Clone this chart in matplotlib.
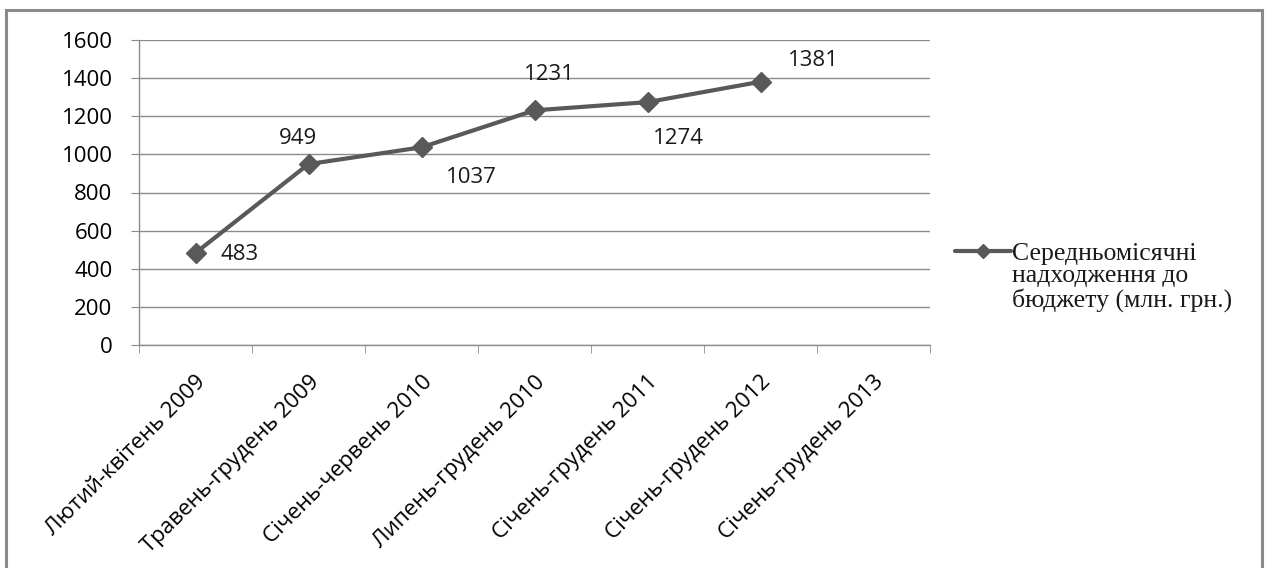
import matplotlib
matplotlib.use('Agg')
import matplotlib.pyplot as plt
from matplotlib.patches import Rectangle
from matplotlib.lines import Line2D
import numpy as np

# дані графіка
periods = ['Лютий-квітень 2009', 'Травень-грудень 2009', 'Січень-червень 2010',
           'Липень-грудень 2010', 'Січень-грудень 2011', 'Січень-грудень 2012',
           'Січень-грудень 2013']
revenue = [483, 949, 1037, 1231, 1274, 1381]
series_name = 'Середньомісячні\nнадходження до\nбюджету (млн. грн.)'
y_ticks = [0, 200, 400, 600, 800, 1000, 1200, 1400, 1600]

# зсуви підписів значень (в пікселях)
label_offsets = [(44, -2), (-11, 26), (50, -30), (15, 36), (31, -36), (53, 21)]

line_color = '#595959'
grid_color = '#8c8c8c'
sans = ['Open Sans', 'DejaVu Sans']
W, H = 1267, 568

fig = plt.figure(figsize=(W / 100, H / 100), dpi=100)
ax = fig.add_axes([139 / W, 1 - 345 / H, (930 - 139) / W, (345 - 40) / H])

x = np.arange(len(revenue))
ax.plot(x, revenue, color=line_color, linewidth=3, marker='D', markersize=10,
        markerfacecolor=line_color, markeredgecolor=line_color,
        solid_capstyle='round', zorder=3)

for xi, v, (dx, dy) in zip(x, revenue, label_offsets):
    ax.annotate(str(v), (xi, v), xytext=(dx * 0.72, dy * 0.72), textcoords='offset points',
                ha='center', va='center', fontsize=16, family=sans, color='#1a1a1a')

ax.set_xlim(-0.5, len(periods) - 0.5)
ax.set_ylim(0, 1600)
ax.set_yticks(y_ticks)
ax.set_yticklabels([str(t) for t in y_ticks], family=sans, fontsize=16)
ax.set_xticks(np.arange(len(periods)))
ax.set_xticklabels(periods, rotation=45, ha='right', rotation_mode='anchor',
                   family=sans, fontsize=16)
ax.set_xticks(np.arange(len(periods) + 1) - 0.5, minor=True)
ax.tick_params(axis='x', which='major', length=0, pad=19)
ax.tick_params(axis='x', which='minor', length=6, color=grid_color, direction='out')
ax.tick_params(axis='y', length=6, color=grid_color, direction='out', pad=13)

ax.grid(axis='y', color=grid_color, linewidth=1)
ax.set_axisbelow(True)
for side in ['top', 'right']:
    ax.spines[side].set_visible(False)
for side in ['left', 'bottom']:
    ax.spines[side].set_color(grid_color)
    ax.spines[side].set_linewidth(1)

# легенда: зразок лінії на рівні першого рядка підпису
fig.add_artist(Line2D([955 / W, 1011 / W], [1 - 251 / H] * 2, transform=fig.transFigure,
                      color=line_color, linewidth=3, solid_capstyle='round'))
fig.add_artist(Line2D([983 / W], [1 - 251 / H], transform=fig.transFigure,
                      color=line_color, marker='D', markersize=7, linestyle='none'))
fig.text(1012 / W, 1 - 243 / H, series_name, ha='left', va='top',
         family='Liberation Serif', fontsize=18.5, linespacing=1.02, color='#1a1a1a')

# рамка навколо діаграми
fig.patches.append(Rectangle((6 / W, -0.05), 1256 / W, 1.05 - 10 / H,
                             transform=fig.transFigure, fill=False,
                             edgecolor='#8a8a8a', linewidth=2.2))

fig.savefig('out.png', dpi=100)
